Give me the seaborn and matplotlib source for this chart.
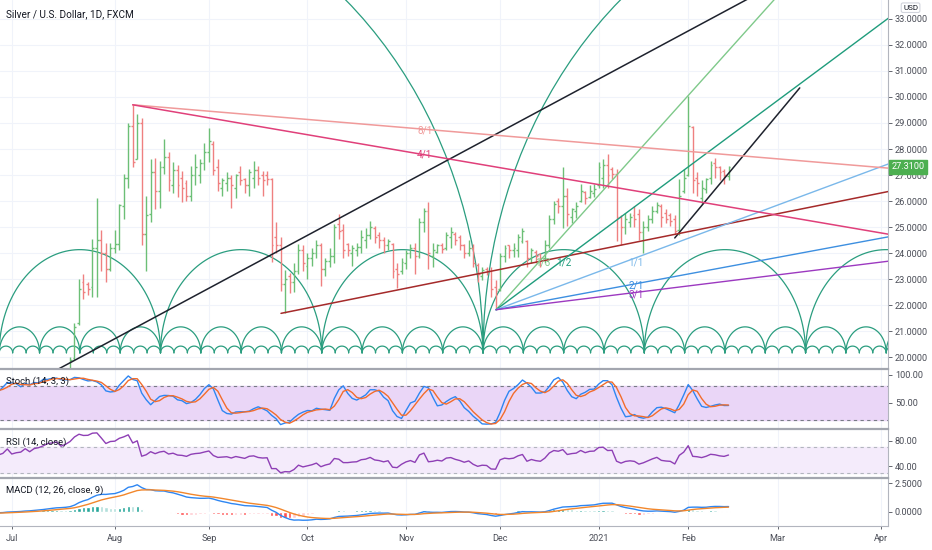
import numpy as np
import pandas as pd
import matplotlib
matplotlib.use("Agg")
import matplotlib.pyplot as plt
import matplotlib.transforms as mtrans
import seaborn as sns

sns.set_theme(style="white")
plt.rcParams["font.family"] = ["Roboto", "DejaVu Sans"]

# ---- data: XAG/USD daily bars, 1 Jun 2020 .. 12 Feb 2021 ----
open_ = [
    # Jun 2020
    17.80, 18.20, 18.30, 17.95, 17.70, 17.45, 17.60, 17.75, 17.90, 17.55, 17.45,
    17.40, 17.55, 17.60, 17.55, 17.65, 17.80, 17.90, 17.60, 17.70, 17.75, 17.85,
    # Jul
    18.20, 17.95, 18.05, 18.10, 18.40, 18.25, 18.55, 18.65, 18.85, 19.15, 19.25,
    19.40, 19.20, 19.45, 19.95, 21.30, 22.90, 22.80, 22.70, 24.20, 24.50, 24.00, 23.40,
    # Aug
    24.20, 24.35, 25.80, 26.90, 28.90, 27.60, 29.00, 24.75, 25.50, 27.10, 26.40,
    27.30, 27.70, 26.60, 27.20, 26.90, 26.70, 26.20, 27.00, 27.00, 27.45,
    # Sep
    27.90, 28.20, 27.30, 26.50, 26.70, 26.90, 26.50, 27.10, 26.85, 26.60, 26.90,
    27.20, 27.00, 27.00, 26.85, 24.60, 24.30, 22.80, 23.10, 22.90, 23.30, 24.10,
    # Oct
    23.50, 23.80, 24.00, 24.30, 23.40, 23.70, 23.90, 25.10, 24.90, 24.35, 24.00,
    24.10, 24.25, 24.50, 24.70, 24.95, 24.70, 24.50, 24.30, 24.35, 23.40, 23.30,
    # Nov
    23.60, 24.00, 24.20, 23.90, 25.20, 25.60, 23.90, 24.05, 24.30, 24.20, 24.60,
    24.75, 24.60, 24.30, 24.00, 24.20, 23.55, 23.10, 23.40, 23.30, 22.70,
    # Dec
    22.60, 23.90, 24.30, 24.10, 24.10, 24.45, 24.45, 23.80, 24.05, 23.95, 23.80,
    24.30, 25.30, 26.00, 25.80, 26.20, 25.40, 25.60, 26.00, 26.35, 26.15, 26.30,
    # Jan 2021
    26.60, 26.90, 27.40, 27.25, 27.05, 25.40, 25.00, 25.20, 25.45, 25.50, 24.80,
    25.00, 25.30, 25.60, 25.80, 25.55, 25.45, 25.30, 24.90, 26.40,
    # Feb
    27.00, 28.85, 26.90, 26.10, 26.45, 26.90, 27.45, 27.30, 27.15, 26.95,
]
high = [
    18.30, 18.40, 18.35, 18.00, 17.90, 17.70, 17.85, 18.00, 17.95, 17.65, 17.60,
    17.80, 17.70, 17.70, 17.80, 17.90, 18.00, 17.95, 17.75, 17.85, 17.95, 18.25,
    18.30, 18.15, 18.15, 18.50, 18.55, 18.65, 18.80, 18.95, 19.30, 19.35, 19.50,
    19.45, 19.55, 20.00, 21.30, 23.00, 23.20, 22.90, 24.55, 26.13, 24.90, 24.40, 24.40,
    24.90, 25.90, 27.05, 29.00, 29.72, 29.35, 29.20, 26.20, 27.60, 27.65, 27.55,
    28.40, 27.90, 27.50, 27.40, 27.15, 26.80, 27.35, 27.80, 27.60, 28.25,
    28.80, 28.30, 27.60, 26.90, 27.10, 27.00, 27.05, 27.35, 26.90, 27.25, 27.55,
    27.35, 27.15, 27.15, 26.90, 25.20, 24.60, 23.35, 23.25, 23.60, 24.35, 24.30,
    24.00, 24.20, 24.50, 24.40, 23.80, 24.20, 25.10, 25.50, 25.10, 24.40, 24.30,
    24.40, 24.90, 24.95, 25.25, 25.05, 24.80, 24.60, 24.55, 24.40, 23.60, 23.80,
    24.10, 24.35, 24.40, 25.35, 25.75, 25.95, 24.40, 24.35, 24.40, 24.80, 25.00,
    24.80, 24.70, 24.35, 24.50, 24.35, 23.60, 23.45, 23.45, 23.45, 22.95,
    24.00, 24.30, 24.30, 24.40, 24.75, 24.95, 24.50, 24.20, 24.10, 24.00, 24.50,
    25.45, 26.00, 26.10, 27.30, 26.50, 25.75, 25.95, 26.65, 26.40, 26.60, 26.65,
    27.50, 27.60, 27.80, 27.30, 27.25, 25.45, 25.55, 25.55, 25.80, 25.70, 25.25,
    25.45, 25.80, 25.95, 25.90, 25.70, 25.55, 25.45, 26.85, 27.25,
    30.05, 28.90, 27.10, 26.80, 26.90, 27.55, 27.65, 27.35, 27.25, 27.35,
]
low = [
    17.70, 18.00, 17.80, 17.50, 17.30, 17.40, 17.50, 17.60, 17.40, 17.20, 16.95,
    17.30, 17.40, 17.35, 17.45, 17.55, 17.70, 17.50, 17.40, 17.55, 17.65, 17.80,
    17.80, 17.85, 17.95, 18.00, 18.10, 18.20, 18.40, 18.50, 18.75, 18.95, 19.15,
    19.05, 19.15, 19.40, 19.90, 21.25, 22.25, 22.40, 22.30, 22.30, 23.30, 22.90, 23.30,
    24.00, 24.10, 25.30, 26.50, 27.30, 27.60, 24.30, 23.30, 25.20, 25.70, 25.75,
    27.05, 26.40, 26.30, 26.15, 25.95, 26.00, 26.00, 26.60, 26.70, 27.20,
    27.50, 27.00, 26.40, 26.20, 26.40, 25.75, 26.10, 26.60, 26.30, 26.20, 26.50,
    26.60, 26.20, 26.60, 23.65, 24.00, 22.55, 21.68, 22.45, 22.50, 23.20, 23.30,
    23.00, 23.50, 23.80, 22.75, 23.10, 23.45, 23.60, 24.55, 23.80, 23.90, 23.50,
    23.90, 24.00, 24.20, 24.55, 24.40, 24.20, 24.00, 24.10, 23.05, 22.65, 23.20,
    23.40, 23.80, 23.20, 23.80, 24.80, 23.40, 23.45, 24.00, 24.00, 24.10, 24.20,
    24.30, 24.10, 23.80, 23.90, 23.45, 22.90, 22.95, 23.15, 22.30, 21.82,
    22.55, 23.65, 23.80, 23.85, 23.85, 24.40, 23.45, 23.60, 23.60, 23.45, 23.60,
    24.20, 25.10, 25.55, 24.95, 25.05, 25.15, 25.35, 25.95, 25.90, 26.10, 26.15,
    26.50, 26.50, 26.50, 26.85, 24.45, 24.30, 24.75, 25.00, 25.00, 24.50, 24.00,
    24.85, 25.15, 25.55, 25.00, 25.15, 25.05, 24.75, 24.70, 26.30,
    26.95, 26.30, 26.20, 25.90, 26.30, 26.65, 26.90, 26.80, 26.65, 26.80,
]
close = [
    18.20, 18.30, 17.95, 17.70, 17.45, 17.60, 17.75, 17.90, 17.55, 17.45, 17.40,
    17.55, 17.60, 17.55, 17.65, 17.80, 17.90, 17.60, 17.70, 17.75, 17.85, 18.20,
    17.95, 18.05, 18.10, 18.40, 18.25, 18.55, 18.65, 18.85, 19.15, 19.25, 19.40,
    19.20, 19.45, 19.90, 21.15, 22.60, 22.50, 22.60, 24.20, 24.50, 24.00, 23.40, 24.20,
    24.35, 25.85, 26.90, 28.90, 27.50, 29.00, 24.75, 25.45, 27.10, 26.40, 27.30,
    27.70, 26.80, 27.20, 26.60, 26.50, 26.20, 27.00, 27.30, 27.45, 27.90,
    28.30, 27.20, 26.70, 26.80, 26.90, 26.60, 27.00, 26.80, 26.60, 27.10, 27.20,
    26.90, 26.80, 26.85, 24.30, 24.30, 22.80, 23.00, 22.90, 23.30, 24.10, 23.60,
    23.80, 24.00, 24.30, 23.40, 23.70, 23.90, 25.00, 24.85, 24.10, 24.10, 24.20,
    24.25, 24.60, 24.70, 25.00, 24.60, 24.50, 24.30, 24.45, 23.30, 23.20, 23.65,
    24.00, 24.20, 23.90, 25.20, 25.60, 24.00, 24.10, 24.30, 24.15, 24.70, 24.80,
    24.50, 24.30, 24.00, 24.20, 23.60, 23.20, 23.35, 23.30, 22.60, 22.55,
    23.90, 24.20, 24.10, 24.20, 24.60, 24.85, 23.80, 24.10, 23.90, 23.80, 24.30,
    25.30, 25.90, 25.80, 26.20, 25.50, 25.70, 25.80, 26.40, 26.10, 26.40, 26.45,
    27.30, 27.40, 27.00, 27.05, 25.40, 25.00, 25.30, 25.40, 25.30, 24.80, 25.00,
    25.30, 25.60, 25.85, 25.40, 25.30, 25.25, 24.85, 26.20, 26.90,
    28.90, 26.80, 26.70, 26.50, 26.85, 27.40, 27.30, 27.10, 27.00, 27.31,
]
last_price = 27.31

month_starts = ["2020-07-01", "2020-08-01", "2020-09-01", "2020-10-01", "2020-11-01",
                "2020-12-01", "2021-01-01", "2021-02-01", "2021-03-01", "2021-04-01"]
month_labels = ["Jul", "Aug", "Sep", "Oct", "Nov", "Dec", "2021", "Feb", "Mar", "Apr"]

# drawings (bar index from 1 Jul 2020, price)
black_long = [(42.0, 22.46), (91.1, 27.00)]
black_short = [(148.0, 24.58), (175.9, 30.35)]
red_trend = [(60.1, 21.68), (141.7, 24.50)]
fan_up_origin = (108.1, 21.82)
fan_up_names = ["1/3", "1/2", "1/1", "2/1", "3/1"]
fan_up_slopes = [0.192, 0.128, 0.064, 0.032, 0.0213]
fan_up_label_pos = [(118.5, 23.62), (123.3, 23.62), (139.3, 23.62), (139.3, 22.74), (139.3, 22.42)]
fan_dn_origin = (27.0, 29.70)
fan_dn_names = ["8/1", "4/1"]
fan_dn_slopes = [-0.01444, -0.0295]
fan_dn_label_pos = [(92.2, 28.73), (92.2, 27.77)]
cycle_anchor = 105.2
cycle_base = 20.16
cycles = [(3, 0.26), (9, 1.0), (36, 3.97)]   # (period in bars, arc height)
big_cycle_half, big_cycle_height = 89.3, 18.0

# ---- calendar / bar positions ----
cal = pd.bdate_range("2020-06-01", "2021-04-30")
cal = cal[~cal.isin(pd.to_datetime(["2020-12-25", "2021-01-01"]))]
start = cal.get_loc(pd.Timestamp("2020-07-01"))
pos_all = np.arange(len(cal)) - start
n = len(close)
df = pd.DataFrame({"x": pos_all[:n], "open": open_, "high": high, "low": low, "close": close})
month_pos = [pos_all[np.searchsorted(cal, pd.Timestamp(m))] for m in month_starts]

# ---- indicators ----
hh = df["high"].rolling(14).max()
ll = df["low"].rolling(14).min()
raw = 100 * (df["close"] - ll) / (hh - ll)
df["k"] = raw.rolling(3).mean()
df["d"] = df["k"].rolling(3).mean()
delta = df["close"].diff()
up = delta.clip(lower=0).ewm(alpha=1 / 14, adjust=False).mean()
dn = (-delta.clip(upper=0)).ewm(alpha=1 / 14, adjust=False).mean()
df["rsi"] = 100 - 100 / (1 + up / dn)
df["macd"] = df["close"].ewm(span=12, adjust=False).mean() - df["close"].ewm(span=26, adjust=False).mean()
df["signal"] = df["macd"].ewm(span=9, adjust=False).mean()
df["hist"] = df["macd"] - df["signal"]

# ---- figure ----
W, H = 932, 550
fig = plt.figure(figsize=(W / 100, H / 100), dpi=100)
fig.patch.set_facecolor("white")
right = 888

def px_axes(top, bottom):
    return fig.add_axes([0, (H - bottom) / H, right / W, (bottom - top) / H])

ax = px_axes(0, 369)
ax_st = px_axes(369, 429)
ax_rsi = px_axes(429, 478)
ax_macd = px_axes(478, 526)
axes = [ax, ax_st, ax_rsi, ax_macd]

xmin, xmax = -2.63, 195.6
grid_c = "#f0f3fa"
txt_c = "#131722"
sep_c = "#a3a6af"
for a in axes:
    a.set_facecolor("white")
    a.set_xlim(xmin, xmax)
    for s in ["left", "top", "bottom"]:
        a.spines[s].set_visible(False)
    a.spines["right"].set_color("#b2b5be")
    a.spines["right"].set_linewidth(0.8)
    for mp in month_pos:
        a.axvline(mp, color=grid_c, lw=0.8, zorder=0)
    a.yaxis.tick_right()
    a.tick_params(axis="y", labelsize=6.6, colors="#4a4d57", length=3, width=0.6, pad=2,
                  left=False, right=True)
    a.tick_params(axis="x", bottom=False, labelbottom=False)
    a.set_xticks(month_pos)
for a in axes[1:]:
    a.spines["top"].set_visible(True)
    a.spines["top"].set_color(sep_c)
    a.spines["top"].set_linewidth(1.6)

# ---- main panel ----
ax.set_ylim(19.54, 33.73)
ticks = np.arange(20, 34, 1.0)
ax.set_yticks(ticks)
ax.set_yticklabels([f"{t:.4f}" for t in ticks])
for t in ticks:
    ax.axhline(t, color=grid_c, lw=0.8, zorder=0)

arc_c = "#2a9d7f"
t = np.linspace(0, np.pi, 80)
for period, height in cycles:
    half = period / 2
    k0 = int(np.floor((xmin - 40 - cycle_anchor) / period))
    k1 = int(np.ceil((xmax + 40 - cycle_anchor) / period))
    for k in range(k0, k1):
        c = cycle_anchor + k * period + half
        ax.plot(c + half * np.cos(t), cycle_base + height * np.sin(t), color=arc_c, lw=0.9, zorder=2)
for c in (cycle_anchor - big_cycle_half, cycle_anchor + big_cycle_half):
    ax.plot(c + big_cycle_half * np.cos(t), cycle_base + big_cycle_height * np.sin(t),
            color=arc_c, lw=0.9, zorder=2)

bull_c, bear_c = "#6cbf76", "#ef8080"
cols = np.where(df["close"] >= df["open"], bull_c, bear_c)
ax.vlines(df["x"], df["low"], df["high"], colors=cols, lw=1.0, zorder=3)
ax.hlines(df["open"], df["x"] - 0.42, df["x"], colors=cols, lw=1.0, zorder=3)
ax.hlines(df["close"], df["x"], df["x"] + 0.42, colors=cols, lw=1.0, zorder=3)

def ray(p, slope, x_end, **kw):
    ax.plot([p[0], x_end], [p[1], p[1] + slope * (x_end - p[0])], **kw)

def slope_of(seg):
    (x0, y0), (x1, y1) = seg
    return (y1 - y0) / (x1 - x0)

ray((black_long[0][0] - 50, black_long[0][1] - 50 * slope_of(black_long)), slope_of(black_long), 200,
    color="#1e222d", lw=1.1, zorder=4)
ax.plot(*zip(*black_short), color="#1e222d", lw=1.1, zorder=4)
ray(red_trend[0], slope_of(red_trend), 200, color="#a52a2a", lw=1.1, zorder=4)

fan_up_cols = ["#7fc98a", "#1f9c7c", "#7ab8ea", "#3d8fe0", "#9c39c0"]
for s, c, name, lp in zip(fan_up_slopes, fan_up_cols, fan_up_names, fan_up_label_pos):
    ray(fan_up_origin, s, 200, color=c, lw=1.0, zorder=4)
    ax.text(lp[0], lp[1], name, color=c, fontsize=7.2, ha="center", va="center", zorder=5)
fan_dn_cols = ["#f09a9a", "#e0407a"]
for s, c, name, lp in zip(fan_dn_slopes, fan_dn_cols, fan_dn_names, fan_dn_label_pos):
    ray(fan_dn_origin, s, 200, color=c, lw=1.1, zorder=4)
    ax.text(lp[0], lp[1], name, color=c, fontsize=7.2, ha="center", va="center", zorder=5)

ax.text(0.007, 0.962, "Silver / U.S. Dollar, 1D, FXCM", transform=ax.transAxes,
        fontsize=7.2, color=txt_c, ha="left", va="center")
blend = mtrans.blended_transform_factory(ax.transAxes, ax.transData)
ax.text(1.004, last_price, f"{last_price:.4f}", transform=blend, fontsize=6.6, color="white",
        ha="left", va="center", clip_on=False, zorder=10,
        bbox=dict(boxstyle="square,pad=0.28", fc="#4caf50", ec="#4caf50"))
fig.text(0.977, 0.986, "USD", fontsize=5.8, color=txt_c, ha="center", va="center",
         bbox=dict(boxstyle="round,pad=0.22", fc="white", ec="#d1d4dc", lw=0.8))

# ---- stochastic ----
ax_st.set_ylim(4, 110)
ax_st.axhspan(20, 80, color="#ead6f7", zorder=0)
for lv in (80, 20):
    ax_st.axhline(lv, color="#787b86", lw=0.8, ls=(0, (3, 3)), zorder=1)
sns.lineplot(data=df, x="x", y="k", ax=ax_st, color="#2e86f2", lw=1.0, zorder=3)
sns.lineplot(data=df, x="x", y="d", ax=ax_st, color="#f26c2c", lw=1.0, zorder=3)
ax_st.set_yticks([100, 50])
ax_st.set_yticklabels(["100.00", "50.00"])
ax_st.text(0.007, 0.8, "Stoch (14, 3, 3)", transform=ax_st.transAxes, fontsize=6.8, color=txt_c, va="center")

# ---- RSI ----
ax_rsi.set_ylim(21.7, 98)
ax_rsi.axhspan(30, 70, color="#f4ebfb", zorder=0)
for lv in (70, 30):
    ax_rsi.axhline(lv, color="#b2b5be", lw=0.8, ls=(0, (3, 3)), zorder=1)
sns.lineplot(data=df, x="x", y="rsi", ax=ax_rsi, color="#8e3fb5", lw=1.0, zorder=3)
ax_rsi.set_yticks([80, 40])
ax_rsi.set_yticklabels(["80.00", "40.00"])
ax_rsi.text(0.007, 0.74, "RSI (14, close)", transform=ax_rsi.transAxes, fontsize=6.8, color=txt_c, va="center")

# ---- MACD ----
ax_macd.set_ylim(-1.25, 2.95)
hist = df["hist"].to_numpy()
prev = np.r_[np.nan, hist[:-1]]
hcol = np.where(hist >= 0, np.where(hist > prev, "#26a69a", "#b2dfdb"),
                np.where(hist < prev, "#ff5252", "#ffcdd2"))
ax_macd.bar(df["x"], hist, width=0.75, color=hcol, zorder=2)
sns.lineplot(data=df, x="x", y="macd", ax=ax_macd, color="#2e86f2", lw=1.0, zorder=3)
sns.lineplot(data=df, x="x", y="signal", ax=ax_macd, color="#f2872c", lw=1.0, zorder=3)
ax_macd.set_yticks([2.5, 0.0])
ax_macd.set_yticklabels(["2.5000", "0.0000"])
ax_macd.text(0.007, 0.74, "MACD (12, 26, close, 9)", transform=ax_macd.transAxes, fontsize=6.8,
             color=txt_c, va="center")
ax_macd.spines["bottom"].set_visible(True)
ax_macd.spines["bottom"].set_color("#b2b5be")
ax_macd.spines["bottom"].set_linewidth(0.8)
ax_macd.tick_params(axis="x", bottom=True, labelbottom=True, labelsize=6.6, colors="#4a4d57",
                    length=2.5, width=0.6, pad=3)
ax_macd.set_xticklabels(month_labels)

for a in axes:
    a.set_xlabel("")
    a.set_ylabel("")
    a.set_xlim(xmin, xmax)

fig.savefig("out.png", dpi=100, facecolor="white")
